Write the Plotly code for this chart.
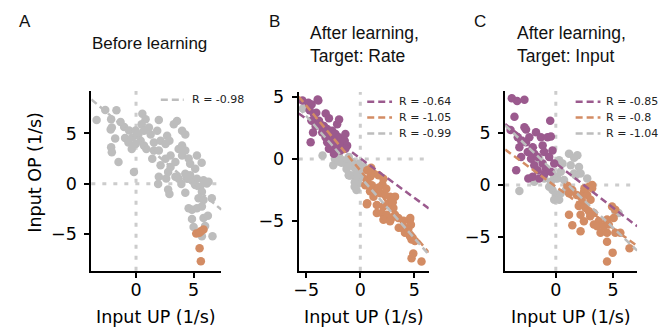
import plotly.graph_objects as go

W, H = 660, 329
PURPLE = "#9b5a8e"
ORANGE = "#d38c64"
GRAY = "#bdbdbd"
ZERO = "#cccccc"

# ---------------- data ----------------
# Panel A: Before learning
A_gray_x = [-3.42, -2.67, -2.16, -1.7, -2.1, -2.2, -1.34, -1.03, -1.81, -2.16, -2.1, -1.52, -0.95, -0.66,
            -0.32, -0.37, -0.6, -0.03, 0.55, 0.83, 0.49, 0.2, 0.69, 1.12, 1.27, 0.4, 0.69, -0.03, 0.9, 1.55,
            1.84, 1.98, 2.13, 2.7, 2.9, 3.28, 3.56, 4.0, 4.28, 2.56, 1.55, 1.98, 1.41, 2.13, 2.56, 3.0, 3.7,
            4.0, 4.28, 4.0, 4.57, 5.29, 5.7, 4.7, 3.42, 3.0, 5.14, 2.79, -0.18, 1.98, 3.42, 4.28, 4.7,
            1.92, 2.62, 2.79, 2.9, 3.94, 4.28, 3.71, 4.43, 4.86, 5.29, 5.86, 6.3, 5.14, 5.57, 5.72, 5.43,
            5.86, 6.15, 6.58, 4.57, 4.86, 5.29, 5.72, 4.86, 5.86, 6.24, 5.0, 6.0, 6.64, 5.72]
A_gray_y = [6.34, 7.32, 6.4, 7.3, 5.6, 5.4, 6.14, 5.65, 4.5, 3.63, 3.14, 2.16, 4.54, 4.1, 4.6, 3.46, 5.3,
            5.3, 6.96, 6.4, 5.9, 4.9, 5.26, 5.59, 4.9, 4.28, 3.79, 3.95, 3.46, 4.1, 5.26, 6.34, 4.28, 4.77,
            4.28, 5.91, 6.24, 5.26, 4.9, 3.95, 3.3, 3.3, 2.48, 1.83, 2.48, 2.8, 3.46, 3.8, 3.3, 2.8, 2.5,
            2.8, 2.1, 1.98, 2.16, 1.67, 1.5, 1.17, 1.17, 0.69, 0.69, 1.0, 0.85,
            -0.03, 0.52, -0.56, -1.01, -0.03, -0.88, 0.5, 0.5, 0.36, 0.5, 0.36, 0.2, -0.13, -0.29, -0.78,
            -1.44, -1.6, 0.03, -1.44, -2.42, -2.58, -2.42, -2.25, -3.5, -3.4, -3.17, -4.28, -4.2, -5.2, -5.2]
A_orange_x = [5.23, 5.5, 5.63, 5.86, 5.52, 5.63]
A_orange_y = [-4.93, -4.85, -4.7, -4.54, -6.4, -7.7]

# Panel B: After learning, Target: Rate
B_purple_x = [-5.35, -4.8, -4.5, -3.88, -4.68, -4.5, -4.28, -4.07, -3.82, -3.67, -4.13, -3.36, -2.9, -4.37,
              -3.52, -3.06, -2.6, -2.14, -2.75, -2.29, -3.21, -1.99, -1.38, -4.59, -3.06, -2.6, -2.14,
              -1.68, -1.44, -1.22, -2.9, -2.29, -1.83, -1.38, -2.44, -3.94, -1.96, -3.2, -2.5]
B_purple_y = [4.75, 4.56, 4.43, 4.75, 3.95, 3.1, 3.63, 3.76, 3.1, 2.8, 2.67, 2.67, 3.31, 2.16, 2.16, 2.43,
              2.29, 2.83, 1.76, 2.03, 1.76, 1.76, 2.03, 1.36, 1.36, 1.23, 1.09, 1.23, 1.49, 1.09, 0.83,
              0.69, 0.69, 0.83, 0.43, 4.83, 3.2, 3.7, 1.5]
B_gray_x = [-5.3, -2.35, -1.99, -1.54, -1.07, -0.76, -1.22, -0.61, -0.15, 0.0, -1.07, -0.46, 0.15, -0.92,
            -0.31, -0.52, -0.15, -3.49, -2.5, -1.73, -1.27, -0.97, -0.51, -0.35, -2.0, -1.2, 0.3]
B_gray_y = [4.1, 0.03, 0.29, -0.11, 0.16, -0.24, -0.64, -0.64, -0.37, -0.91, -1.31, -1.23, -1.44, -1.31,
            -1.57, -2.24, -1.97, 0.3, -0.5, -0.3, -0.8, -1.33, -1.87, -2.5, -0.2, -0.2, -0.6]
B_orange_x = [0.61, 0.92, 1.22, 1.68, 0.46, 1.07, 2.05, 0.61, 1.38, 1.84, 1.22, 2.29, 2.75, 3.21, 1.53,
              2.14, 2.6, 3.06, 1.53, 1.99, 2.45, 2.14, 2.75, 3.21, 3.52, 3.82, 4.13, 4.59, 4.68, 4.43,
              4.59, 4.74, 5.05, 5.66, 4.74, 4.9, 4.62, 3.55, 2.87, 0.64, 1.0, 0.9, 1.7, 2.4, 3.0, 4.0,
              0.64, 2.14]
B_orange_y = [-1.71, -1.44, -1.17, -1.31, -2.11, -2.11, -2.05, -3.65, -2.64, -2.77, -3.04, -2.91, -3.04,
              -3.04, -3.71, -3.84, -3.57, -3.97, -4.37, -4.37, -4.51, -4.91, -5.04, -4.51, -4.77, -5.57,
              -5.97, -4.91, -5.31, -5.71, -6.24, -6.51, -6.64, -8.29, -8.03, -7.65, -4.77, -5.57, -4.8,
              -3.57, -0.7, -2.6, -2.3, -2.4, -3.5, -5.0, -0.9, -1.6]

# Panel C: After learning, Target: Input
C_purple_x = [-3.84, -3.38, -2.74, -3.61, -3.95, -2.74, -2.6, -1.73, -0.49, -3.32, -3.03, -2.31, -1.3,
              -0.72, -0.43, -3.18, -2.6, -2.02, -2.45, -1.88, -1.15, -1.01, -0.29, -3.03, -2.16, -1.59,
              -0.58, -1.88, -1.15, -0.14, -0.87, -3.46, -1.59, -2.02, -1.44, -1.01, -0.43, -2.4]
C_purple_y = [8.29, 8.04, 8.16, 6.53, 5.27, 5.52, 5.3, 5.05, 6.14, 4.57, 4.26, 4.57, 4.57, 4.57, 4.63,
              3.62, 4.1, 3.62, 3.15, 3.0, 3.78, 3.15, 3.31, 2.68, 2.52, 2.68, 2.68, 1.89, 2.05, 2.05,
              1.57, 1.41, 1.41, 0.78, 0.63, 1.04, 1.26, 0.63]
C_gray_x = [-1.44, 0.29, 1.15, 1.88, 0.58, 1.3, 2.02, 1.59, 2.16, 0.43, -0.14, -1.01, 2.74, -3.18, -1.88,
            -0.43, -0.58, -0.29, 0.0, -0.14, 0.29, 0.43, 0.87, 0.14, 0.72, 1.73, 5.19, 5.48, 1.6]
C_gray_y = [2.52, 2.36, 3.0, 2.84, 2.05, 1.89, 1.73, 1.1, 1.1, 1.26, 0.78, 0.63, 0.63, -0.57, 0.31, 0.31,
            -0.16, -0.48, -0.95, -1.42, -1.42, -0.79, -0.48, 0.63, 0.47, 0.94, -2.52, -2.68, 2.6]
C_orange_x = [1.01, 1.44, 1.15, 1.82, 2.16, 2.45, 2.89, 3.18, 2.74, 3.03, 2.31, 2.6, 2.89, 3.32, 3.75,
              1.15, 2.16, 2.45, 1.44, 2.16, 3.32, 3.61, 3.9, 4.47, 4.18, 4.62, 4.91, 5.19, 5.05, 4.47,
              5.19, 5.63, 4.47, 4.96, 4.47, 6.43, 3.17, 2.5, 2.0, 3.0]
C_orange_y = [-0.06, -0.48, -0.79, -0.95, -1.1, -0.69, -0.16, 0.0, -0.95, -1.42, -1.58, -2.21, -2.52,
              -2.68, -3.47, -2.84, -2.84, -3.47, -3.85, -4.42, -3.78, -3.94, -4.57, -4.57, -3.94, -3.78,
              -2.05, -2.37, -3.15, -3.31, -4.57, -4.57, -5.43, -6.47, -7.32, -6.06, -0.3, -0.3, -2.0, -3.0]

# Regression lines (slope, intercept) and legend labels
A_fit = [(-0.97, 4.62, GRAY, "R = -0.98")]
B_fit = [(-0.64, 0.06, PURPLE, "R = -0.64"), (-1.05, -0.92, ORANGE, "R = -1.05"),
         (-0.99, -1.46, GRAY, "R = -0.99")]
C_fit = [(-0.85, 2.08, PURPLE, "R = -0.85"), (-0.80, -0.15, ORANGE, "R = -0.8"),
         (-1.04, 1.11, GRAY, "R = -1.04")]

titles = ["Before learning", "After learning,<br>Target: Rate", "After learning,<br>Target: Input"]
letters = ["A", "B", "C"]
x_label = "Input UP (1/s)"
y_label = "Input OP (1/s)"

# ---------------- layout geometry (pixels) ----------------
panels = [
    dict(xd=(87, 218), yd=(88, 270), xr=[-3.88, 7.41], yr=[-8.63, 9.22], xt=[0, 5], yt=[-5, 0, 5],
         scat=[(A_gray_x, A_gray_y, GRAY), (A_orange_x, A_orange_y, ORANGE)], fits=A_fit,
         leg=(157, 180, 187, [97])),
    dict(xd=(296, 427), yd=(89, 270), xr=[-5.69, 6.33], yr=[-9.04, 5.44], xt=[-5, 0, 5], yt=[-5, 0, 5],
         scat=[(B_gray_x, B_gray_y, GRAY), (B_purple_x, B_purple_y, PURPLE), (B_orange_x, B_orange_y, ORANGE)],
         fits=B_fit, leg=(365, 390, 396, [99, 115, 131])),
    dict(xd=(504, 637), yd=(88, 270), xr=[-4.42, 7.1], yr=[-8.2, 9.0], xt=[0, 5], yt=[-5, 0, 5],
         scat=[(C_gray_x, C_gray_y, GRAY), (C_purple_x, C_purple_y, PURPLE), (C_orange_x, C_orange_y, ORANGE)],
         fits=C_fit, leg=(575, 600, 605, [99, 115, 131])),
]


def fx(p):
    return p / W


def fy(p):
    return 1 - p / H


fig = go.Figure()
tickfont = dict(family="DejaVu Sans", size=17.5, color="black")
shapes = []
annotations = []

for i, p in enumerate(panels):
    n = "" if i == 0 else str(i + 1)
    xa, ya = "x" + n, "y" + n
    for xs, ys, col in p["scat"]:
        fig.add_trace(go.Scatter(x=xs, y=ys, mode="markers", xaxis=xa, yaxis=ya, showlegend=False,
                                 marker=dict(size=8.5, color=col, line=dict(width=0))))
    x0, x1 = p["xr"]
    for slope, icpt, col, lab in p["fits"]:
        fig.add_trace(go.Scatter(x=[x0, x1], y=[icpt + slope * x0, icpt + slope * x1], mode="lines",
                                 xaxis=xa, yaxis=ya, showlegend=False,
                                 line=dict(color=col, width=2.5, dash="7px,4px")))
    common = dict(showline=True, linecolor="black", linewidth=2, ticks="outside", ticklen=5,
                  tickwidth=1.5, tickcolor="black", showgrid=False, zeroline=False, tickfont=tickfont,
                  fixedrange=True)
    fig.layout["xaxis" + n] = dict(domain=[fx(p["xd"][0]), fx(p["xd"][1])], range=p["xr"],
                                   tickvals=p["xt"], anchor=ya, ticklabelstandoff=-3, **common)
    fig.layout["yaxis" + n] = dict(domain=[fy(p["yd"][1]), fy(p["yd"][0])], range=p["yr"],
                                   tickvals=p["yt"], anchor=xa, ticklabelstandoff=4, **common)
    # dotted zero lines
    shapes.append(dict(type="line", xref=xa, yref=ya + " domain", x0=0, x1=0, y0=0, y1=1, layer="below",
                       line=dict(color=ZERO, width=3, dash="4px,7px")))
    shapes.append(dict(type="line", xref=xa + " domain", yref=ya, x0=0, x1=1, y0=0, y1=0, layer="below",
                       line=dict(color=ZERO, width=3, dash="4px,7px")))
    # legend
    lx0, lx1, tx, rows = p["leg"]
    for (slope, icpt, col, lab), ry in zip(p["fits"], rows):
        shapes.append(dict(type="line", xref="paper", yref="paper", x0=fx(lx0), x1=fx(lx1),
                           y0=fy(ry), y1=fy(ry), line=dict(color=col, width=2.5, dash="7px,4px")))
        annotations.append(dict(text=lab, xref="paper", yref="paper", x=fx(tx), y=fy(ry), xanchor="left",
                                yanchor="middle", showarrow=False, borderpad=0,
                                font=dict(family="DejaVu Sans", size=11, color="#222222")))
    # x label
    annotations.append(dict(text=x_label, xref="paper", yref="paper", x=fx((p["xd"][0] + p["xd"][1]) / 2),
                            y=fy(317), xanchor="center", yanchor="middle", showarrow=False,
                            font=dict(family="DejaVu Sans", size=17.5, color="black")))

# y label (panel A only)
annotations.append(dict(text=y_label, xref="paper", yref="paper", x=fx(30), y=fy(170), textangle=-90,
                        xanchor="center", yanchor="middle", showarrow=False,
                        font=dict(family="DejaVu Sans", size=17.5, color="black")))

# titles
annotations.append(dict(text=titles[0], xref="paper", yref="paper", x=fx(145.5), y=fy(40),
                        xanchor="center", yanchor="middle", showarrow=False,
                        font=dict(family="Liberation Sans", size=17, color="#111111")))
for t, xl in zip(titles[1:], [305, 514]):
    annotations.append(dict(text=t, xref="paper", yref="paper", x=fx(xl), y=fy(41), xanchor="left",
                            yanchor="middle", align="left", showarrow=False,
                            font=dict(family="Liberation Sans", size=17.5, color="#111111")))
# panel letters
for L, cx in zip(letters, [20, 271.5, 479]):
    annotations.append(dict(text=L, xref="paper", yref="paper", x=fx(cx), y=fy(18), xanchor="center",
                            yanchor="middle", showarrow=False,
                            font=dict(family="Liberation Sans", size=17, color="#111111")))

fig.update_layout(width=W, height=H, margin=dict(l=0, r=0, t=0, b=0), paper_bgcolor="white",
                  plot_bgcolor="white", shapes=shapes, annotations=annotations, showlegend=False)

fig.write_html("out.html")
